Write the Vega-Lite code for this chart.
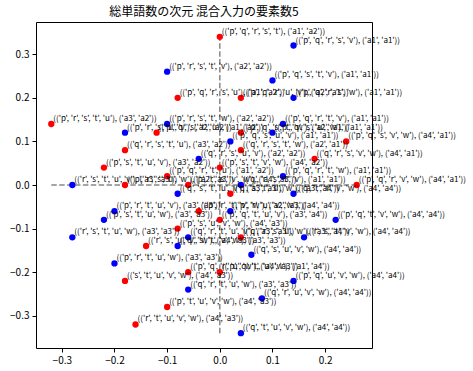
{
  "$schema": "https://vega.github.io/schema/vega-lite/v6.json",
  "autosize": {"type": "none"},
  "padding": {"left": 36, "top": 22, "right": 101, "bottom": 23},
  "width": 336,
  "height": 326,
  "background": "white",
  "title": {"text": "総単語数の次元 混合入力の要素数5", "fontSize": 12, "fontWeight": "normal", "font": "Noto Sans CJK JP", "color": "black", "anchor": "middle", "offset": 3},
  "config": {
    "view": {"stroke": "black", "strokeWidth": 1},
    "axis": {"grid": false, "domain": false, "tickColor": "black", "tickSize": 4, "labelColor": "black", "labelFont": "Noto Sans CJK JP", "labelFontSize": 10, "labelPadding": 3, "title": null, "labelFlush": false, "labelOverlap": false}
  },
  "datasets": {
    "pts": [
      {"x": 0, "y": 0.34, "kind": "diff", "label": "(('p', 'q', 'r', 's', 't'), ('a1', 'a2'))"},
      {"x": -0.08, "y": 0.2, "kind": "diff", "label": "(('p', 'q', 'r', 's', 'u'), ('a1', 'a2'))"},
      {"x": 0.04, "y": 0.2, "kind": "diff", "label": "(('p', 'q', 'r', 'u', 'v'), ('a2', 'a1'))"},
      {"x": -0.32, "y": 0.14, "kind": "diff", "label": "(('p', 'r', 's', 't', 'u'), ('a3', 'a2'))"},
      {"x": -0.12, "y": 0.12, "kind": "diff", "label": "(('p', 'q', 's', 't', 'u'), ('a1', 'a2'))"},
      {"x": 0.04, "y": 0.12, "kind": "diff", "label": "(('p', 'q', 's', 't', 'w'), ('a2', 'a1'))"},
      {"x": -0.18, "y": 0.08, "kind": "diff", "label": "(('q', 'r', 's', 't', 'u'), ('a3', 'a2'))"},
      {"x": 0.04, "y": 0.08, "kind": "diff", "label": "(('q', 'r', 's', 't', 'w'), ('a2', 'a1'))"},
      {"x": 0.24, "y": 0.1, "kind": "diff", "label": "(('p', 'q', 's', 'v', 'w'), ('a4', 'a1'))"},
      {"x": 0.18, "y": 0.06, "kind": "diff", "label": "(('q', 'r', 's', 'v', 'w'), ('a4', 'a1'))"},
      {"x": -0.22, "y": 0.04, "kind": "diff", "label": "(('p', 's', 't', 'u', 'v'), ('a3', 'a2'))"},
      {"x": 0, "y": 0.04, "kind": "diff", "label": "(('p', 's', 't', 'v', 'w'), ('a4', 'a2'))"},
      {"x": -0.1, "y": 0.02, "kind": "diff", "label": "(('p', 'q', 'r', 't', 'u'), ('a1', 'a2'))"},
      {"x": -0.18, "y": 0, "kind": "diff", "label": "(('p', 'r', 's', 'u', 'w'), ('a2', 'a3'))"},
      {"x": -0.06, "y": 0, "kind": "diff", "label": "(('p', 'r', 's', 'v', 'w'), ('a4', 'a3'))"},
      {"x": 0.26, "y": 0, "kind": "diff", "label": "(('p', 'q', 'r', 'v', 'w'), ('a4', 'a1'))"},
      {"x": 0.02, "y": -0.02, "kind": "diff", "label": "(('q', 's', 't', 'u', 'w'), ('a3', 'a4'))"},
      {"x": -0.04, "y": -0.06, "kind": "diff", "label": "(('p', 'r', 't', 'v', 'w'), ('a2', 'a3'))"},
      {"x": 0, "y": -0.08, "kind": "diff", "label": "(('p', 'q', 't', 'u', 'v'), ('a3', 'a4'))"},
      {"x": -0.08, "y": -0.1, "kind": "diff", "label": "(('p', 's', 'u', 'v', 'w'), ('a4', 'a3'))"},
      {"x": 0.04, "y": -0.12, "kind": "diff", "label": "(('q', 'r', 's', 'u', 'w'), ('a3', 'a4'))"},
      {"x": -0.14, "y": -0.14, "kind": "diff", "label": "(('r', 's', 'u', 'v', 'w'), ('a4', 'a3'))"},
      {"x": -0.06, "y": -0.2, "kind": "diff", "label": "(('p', 'q', 'r', 'u', 'w'), ('a4', 'a3'))"},
      {"x": 0, "y": -0.2, "kind": "diff", "label": "(('p', 'q', 't', 'u', 'w'), ('a1', 'a4'))"},
      {"x": -0.18, "y": -0.22, "kind": "diff", "label": "(('s', 't', 'u', 'v', 'w'), ('a4', 'a3'))"},
      {"x": -0.1, "y": -0.28, "kind": "diff", "label": "(('p', 't', 'u', 'v', 'w'), ('a4', 'a3'))"},
      {"x": -0.16, "y": -0.32, "kind": "diff", "label": "(('r', 't', 'u', 'v', 'w'), ('a4', 'a3'))"},
      {"x": 0.14, "y": 0.32, "kind": "same", "label": "(('p', 'q', 'r', 's', 'v'), ('a1', 'a1'))"},
      {"x": -0.1, "y": 0.26, "kind": "same", "label": "(('p', 'r', 's', 't', 'v'), ('a2', 'a2'))"},
      {"x": 0.1, "y": 0.24, "kind": "same", "label": "(('p', 'q', 's', 't', 'v'), ('a1', 'a1'))"},
      {"x": 0.14, "y": 0.2, "kind": "same", "label": "(('p', 'q', 'r', 's', 'w'), ('a1', 'a1'))"},
      {"x": -0.1, "y": 0.14, "kind": "same", "label": "(('p', 'r', 's', 't', 'w'), ('a2', 'a2'))"},
      {"x": 0.12, "y": 0.14, "kind": "same", "label": "(('p', 'q', 'r', 't', 'v'), ('a1', 'a1'))"},
      {"x": -0.18, "y": 0.12, "kind": "same", "label": "(('p', 'r', 's', 'u', 'v'), ('a2', 'a2'))"},
      {"x": 0.1, "y": 0.12, "kind": "same", "label": "(('p', 'q', 's', 'u', 'w'), ('a1', 'a1'))"},
      {"x": 0.02, "y": 0.1, "kind": "same", "label": "(('p', 'q', 's', 'u', 'v'), ('a1', 'a1'))"},
      {"x": -0.04, "y": 0.06, "kind": "same", "label": "(('q', 'r', 's', 'u', 'v'), ('a2', 'a2'))"},
      {"x": 0.12, "y": 0.02, "kind": "same", "label": "(('p', 'q', 'r', 't', 'w'), ('a1', 'a1'))"},
      {"x": -0.28, "y": 0, "kind": "same", "label": "(('r', 's', 't', 'u', 'v'), ('a3', 'a3'))"},
      {"x": 0.04, "y": 0, "kind": "same", "label": "(('q', 'r', 's', 't', 'v'), ('a1', 'a1'))"},
      {"x": -0.08, "y": -0.02, "kind": "same", "label": "(('q', 's', 't', 'u', 'v'), ('a3', 'a3'))"},
      {"x": 0.14, "y": -0.02, "kind": "same", "label": "(('q', 'r', 't', 'v', 'w'), ('a4', 'a4'))"},
      {"x": -0.2, "y": -0.06, "kind": "same", "label": "(('p', 'r', 't', 'u', 'v'), ('a3', 'a3'))"},
      {"x": 0.02, "y": -0.06, "kind": "same", "label": "(('p', 'r', 'u', 'v', 'w'), ('a4', 'a4'))"},
      {"x": -0.22, "y": -0.08, "kind": "same", "label": "(('p', 's', 't', 'u', 'w'), ('a3', 'a3'))"},
      {"x": 0.22, "y": -0.08, "kind": "same", "label": "(('p', 'q', 't', 'v', 'w'), ('a4', 'a4'))"},
      {"x": -0.28, "y": -0.12, "kind": "same", "label": "(('r', 's', 't', 'u', 'w'), ('a3', 'a3'))"},
      {"x": -0.06, "y": -0.12, "kind": "same", "label": "(('q', 'r', 't', 'u', 'v'), ('a3', 'a3'))"},
      {"x": 0.16, "y": -0.12, "kind": "same", "label": "(('r', 's', 't', 'v', 'w'), ('a4', 'a4'))"},
      {"x": -0.08, "y": -0.14, "kind": "same", "label": "(('q', 's', 't', 'v', 'w'), ('a3', 'a3'))"},
      {"x": 0.06, "y": -0.16, "kind": "same", "label": "(('q', 's', 'u', 'v', 'w'), ('a4', 'a4'))"},
      {"x": -0.2, "y": -0.18, "kind": "same", "label": "(('p', 'r', 't', 'u', 'w'), ('a3', 'a3'))"},
      {"x": 0.14, "y": -0.22, "kind": "same", "label": "(('p', 'q', 'u', 'v', 'w'), ('a4', 'a4'))"},
      {"x": -0.06, "y": -0.24, "kind": "same", "label": "(('q', 'r', 't', 'u', 'w'), ('a3', 'a3'))"},
      {"x": 0.08, "y": -0.26, "kind": "same", "label": "(('q', 'r', 'u', 'v', 'w'), ('a4', 'a4'))"},
      {"x": 0.04, "y": -0.34, "kind": "same", "label": "(('q', 't', 'u', 'v', 'w'), ('a4', 'a4'))"}
    ]
  },
  "layer": [
    {
      "data": {"values": [{"x": 0, "y": -0.34, "y2": 0.34}]},
      "mark": {"type": "rule", "color": "#888888", "strokeWidth": 1.5, "strokeDash": [5.5, 2.4]},
      "encoding": {
        "x": {"field": "x", "type": "quantitative", "scale": {"domain": [-0.349, 0.289], "nice": false, "zero": false}, "axis": {"values": [-0.3, -0.2, -0.1, 0, 0.1, 0.2], "format": ".1f"}},
        "y": {"field": "y", "type": "quantitative", "scale": {"domain": [-0.374, 0.374], "nice": false, "zero": false}, "axis": {"values": [-0.3, -0.2, -0.1, 0, 0.1, 0.2, 0.3], "format": ".1f"}},
        "y2": {"field": "y2"}
      }
    },
    {
      "data": {"values": [{"x": -0.32, "x2": 0.26, "y": 0}]},
      "mark": {"type": "rule", "color": "#888888", "strokeWidth": 1.5, "strokeDash": [5.5, 2.4]},
      "encoding": {
        "x": {"field": "x", "type": "quantitative"},
        "x2": {"field": "x2"},
        "y": {"field": "y", "type": "quantitative"}
      }
    },
    {
      "data": {"name": "pts"},
      "mark": {"type": "circle", "size": 40, "opacity": 1},
      "encoding": {
        "x": {"field": "x", "type": "quantitative"},
        "y": {"field": "y", "type": "quantitative"},
        "color": {"field": "kind", "type": "nominal", "scale": {"domain": ["diff", "same"], "range": ["#ff0000", "#0000ff"]}, "legend": null}
      }
    },
    {
      "data": {"name": "pts"},
      "mark": {"type": "text", "align": "left", "baseline": "alphabetic", "dx": 2, "dy": -3, "fontSize": 8, "font": "Noto Sans CJK JP", "color": "black"},
      "encoding": {
        "x": {"field": "x", "type": "quantitative"},
        "y": {"field": "y", "type": "quantitative"},
        "text": {"field": "label"}
      }
    }
  ]
}
